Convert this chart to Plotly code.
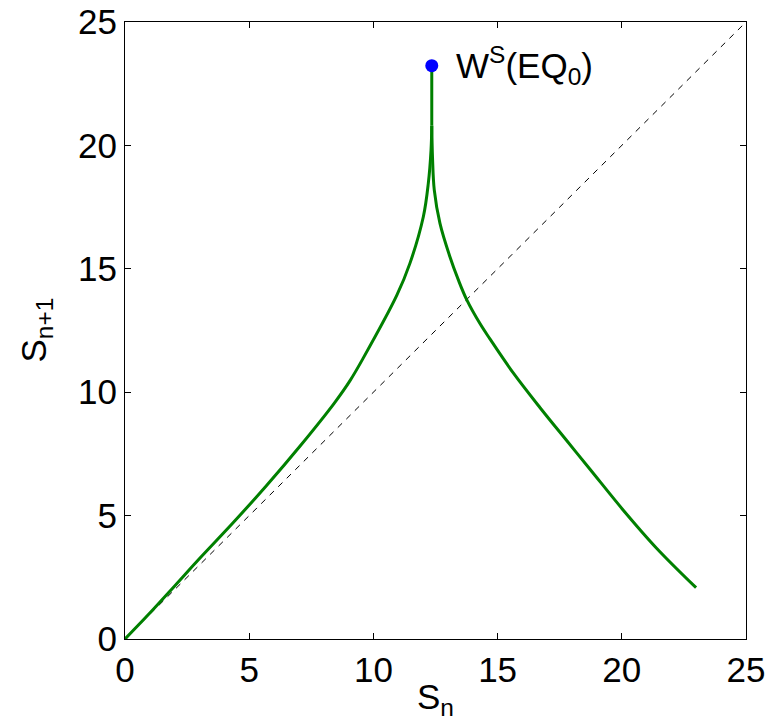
import plotly.graph_objects as go

# Left branch of the return map (S_n, S_{n+1})
left_x = [0, 1.0, 2.0, 3.02, 4.36, 5.70, 7.05, 8.42, 9.06, 9.59, 10.94, 11.47, 12.01, 12.21, 12.32, 12.35]
left_y = [0, 1.05, 2.15, 3.28, 4.72, 6.22, 7.82, 9.55, 10.47, 11.38, 13.92, 15.22, 17.11, 18.46, 19.81, 20.8]

# Right branch
right_x = [12.35, 12.38, 12.45, 12.68, 13.08, 13.42, 13.76, 14.29, 14.69, 15.63, 16.71, 17.78, 18.72, 20.06, 21.40, 22.99]
right_y = [20.8, 19.5, 18.2, 16.84, 15.49, 14.55, 13.74, 12.78, 12.16, 10.78, 9.37, 8.04, 6.88, 5.22, 3.68, 2.08]

# Vertical stem up to the stable manifold point
stem_x = [12.35, 12.35]
stem_y = [20.8, 23.23]

# Diagonal S_{n+1} = S_n
diag = [0, 25]

# Stable manifold point of EQ0
eq_x = [12.35]
eq_y = [23.23]

tick_vals = [0, 5, 10, 15, 20, 25]
tick_text = ["0", "5", "10", "15", "20", "25"]

FONT = "Liberation Sans, Arial, sans-serif"
FS = 35
GREEN = "#008000"

fig = go.Figure()
fig.add_trace(go.Scatter(x=diag, y=diag, mode="lines",
                         line=dict(color="black", width=1, dash="6px,6px"), showlegend=False))
fig.add_trace(go.Scatter(x=left_x, y=left_y, mode="lines",
                         line=dict(color=GREEN, width=3, shape="spline", smoothing=1.0),
                         showlegend=False))
fig.add_trace(go.Scatter(x=right_x, y=right_y, mode="lines",
                         line=dict(color=GREEN, width=3, shape="spline", smoothing=1.0),
                         showlegend=False))
fig.add_trace(go.Scatter(x=stem_x, y=stem_y, mode="lines",
                         line=dict(color=GREEN, width=3), showlegend=False))
fig.add_trace(go.Scatter(x=eq_x, y=eq_y, mode="markers",
                         marker=dict(color="#0000FF", size=13), showlegend=False))

fig.add_annotation(x=eq_x[0], y=eq_y[0], xref="x", yref="y",
                   text="W<sup>S</sup>(EQ<sub>0</sub>)", showarrow=False,
                   xanchor="left", yanchor="middle", xshift=22,
                   font=dict(family=FONT, size=FS, color="black"))

# Axis titles as annotations (fixed pixel placement)
fig.add_annotation(x=0.5, y=0, xref="paper", yref="paper",
                   text="S<sub>n</sub>", showarrow=False,
                   xanchor="center", yanchor="top", yshift=-36,
                   font=dict(family=FONT, size=FS, color="black"))
fig.add_annotation(x=0, y=0.5, xref="paper", yref="paper",
                   text="S<sub>n+1</sub>", showarrow=False, textangle=-90,
                   xanchor="right", yanchor="middle", xshift=-66,
                   font=dict(family=FONT, size=FS, color="black"))

axis_common = dict(range=[0, 25], tickvals=tick_vals, ticktext=tick_text,
                   showgrid=False, zeroline=False, showline=True, linecolor="black",
                   linewidth=1, mirror="ticks", ticks="inside", ticklen=6,
                   tickcolor="black", tickwidth=1, automargin=False,
                   tickfont=dict(family=FONT, size=FS, color="black"))

fig.update_xaxes(**axis_common)
fig.update_yaxes(**axis_common)

fig.update_layout(width=772, height=728,
                  margin=dict(l=125, r=26, t=22, b=89, autoexpand=False),
                  paper_bgcolor="white", plot_bgcolor="white")

fig.write_html("out.html")
